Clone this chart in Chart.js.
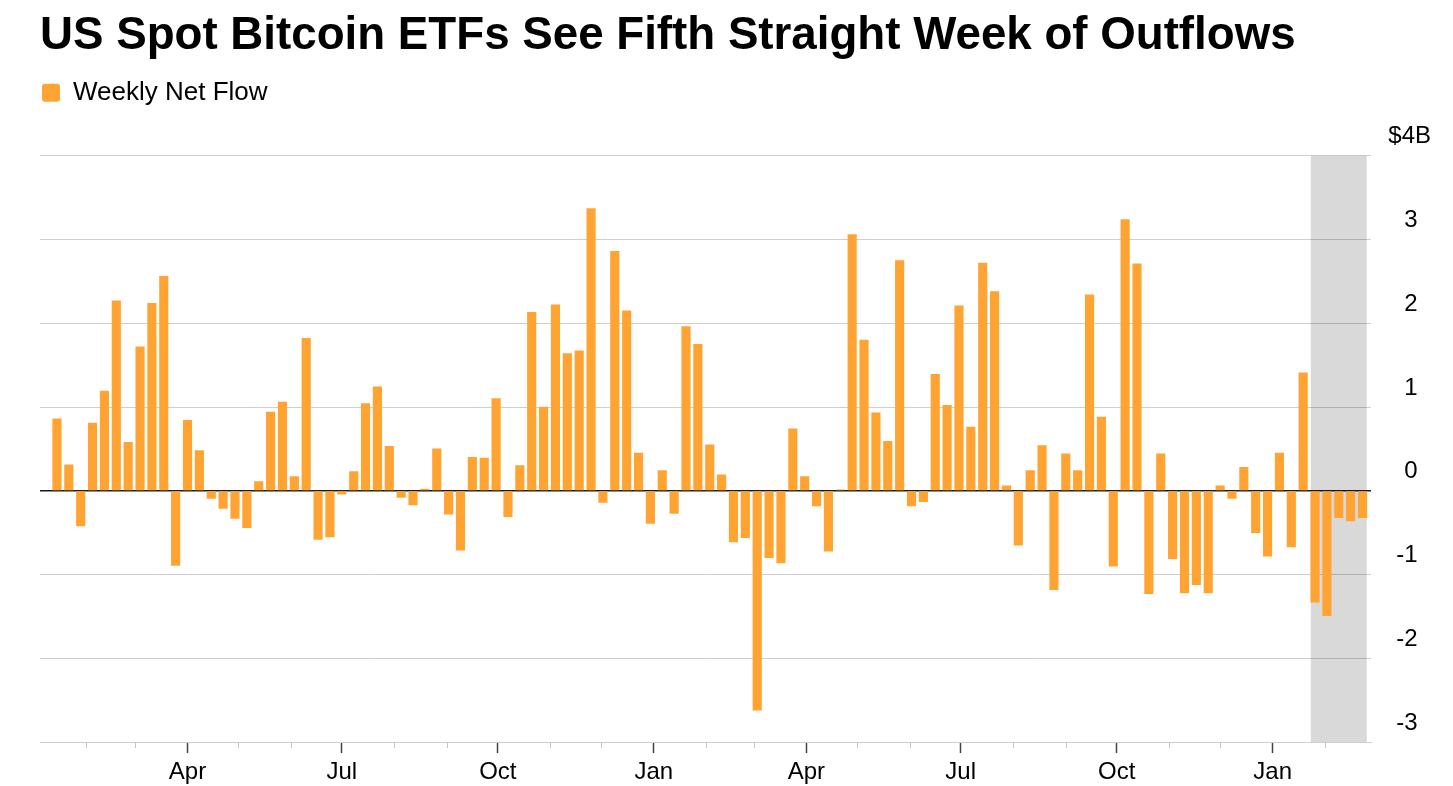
<!DOCTYPE html>
<html>
<head>
<meta charset="utf-8">
<title>US Spot Bitcoin ETFs See Fifth Straight Week of Outflows</title>
<script src="https://cdn.jsdelivr.net/npm/chart.js@4.4.1/dist/chart.umd.min.js"></script>
<style>
    html, body { margin: 0; padding: 0; background: #fff; }
    #wrap { position: relative; width: 1453px; height: 786px; }
</style>
</head>
<body>
<div id="wrap"><canvas id="flowChart"></canvas></div>
<script>
// weeks (Monday of each week), Jan 2024 - Feb 2026
const weeks = [
    "2024-01-15", "2024-01-22", "2024-01-29",
    "2024-02-05", "2024-02-12", "2024-02-19", "2024-02-26",
    "2024-03-04", "2024-03-11", "2024-03-18", "2024-03-25",
    "2024-04-01", "2024-04-08", "2024-04-15", "2024-04-22", "2024-04-29",
    "2024-05-06", "2024-05-13", "2024-05-20", "2024-05-27",
    "2024-06-03", "2024-06-10", "2024-06-17", "2024-06-24",
    "2024-07-01", "2024-07-08", "2024-07-15", "2024-07-22", "2024-07-29",
    "2024-08-05", "2024-08-12", "2024-08-19", "2024-08-26",
    "2024-09-02", "2024-09-09", "2024-09-16", "2024-09-23", "2024-09-30",
    "2024-10-07", "2024-10-14", "2024-10-21", "2024-10-28",
    "2024-11-04", "2024-11-11", "2024-11-18", "2024-11-25",
    "2024-12-02", "2024-12-09", "2024-12-16", "2024-12-23", "2024-12-30",
    "2025-01-06", "2025-01-13", "2025-01-20", "2025-01-27",
    "2025-02-03", "2025-02-10", "2025-02-17", "2025-02-24",
    "2025-03-03", "2025-03-10", "2025-03-17", "2025-03-24", "2025-03-31",
    "2025-04-07", "2025-04-14", "2025-04-21", "2025-04-28",
    "2025-05-05", "2025-05-12", "2025-05-19", "2025-05-26",
    "2025-06-02", "2025-06-09", "2025-06-16", "2025-06-23", "2025-06-30",
    "2025-07-07", "2025-07-14", "2025-07-21", "2025-07-28",
    "2025-08-04", "2025-08-11", "2025-08-18", "2025-08-25",
    "2025-09-01", "2025-09-08", "2025-09-15", "2025-09-22", "2025-09-29",
    "2025-10-06", "2025-10-13", "2025-10-20", "2025-10-27",
    "2025-11-03", "2025-11-10", "2025-11-17", "2025-11-24",
    "2025-12-01", "2025-12-08", "2025-12-15", "2025-12-22", "2025-12-29",
    "2026-01-05", "2026-01-12", "2026-01-19", "2026-01-26",
    "2026-02-02", "2026-02-09", "2026-02-16", "2026-02-23",
];

// weekly net flow, $ billions
const netFlow = [
    0.86, 0.31, -0.42,
    0.81, 1.19, 2.27, 0.58,
    1.72, 2.24, 2.56, -0.89,
    0.84, 0.48, -0.09, -0.21, -0.33,
    -0.44, 0.11, 0.94, 1.06,
    0.17, 1.82, -0.58, -0.55,
    -0.04, 0.23, 1.04, 1.24, 0.53,
    -0.08, -0.17, 0.02, 0.50,
    -0.28, -0.71, 0.40, 0.39, 1.10,
    -0.31, 0.30, 2.13, 1.00,
    2.22, 1.64, 1.67, 3.37,
    -0.14, 2.86, 2.15, 0.45, -0.39,
    0.24, -0.27, 1.96, 1.75,
    0.55, 0.19, -0.61, -0.56,
    -2.62, -0.80, -0.86, 0.74, 0.17,
    -0.18, -0.72, 0.01, 3.06,
    1.80, 0.93, 0.59, 2.75,
    -0.18, -0.13, 1.39, 1.02, 2.21,
    0.76, 2.72, 2.38, 0.06,
    -0.65, 0.24, 0.54, -1.18,
    0.44, 0.24, 2.34, 0.88, -0.90,
    3.24, 2.71, -1.23, 0.44,
    -0.81, -1.22, -1.12, -1.22,
    0.06, -0.09, 0.28, -0.50, -0.78,
    0.45, -0.67, 1.41, -1.33,
    -1.49, -0.32, -0.36, -0.32,
];

// axis labels
const quarterMonths = [0, 3, 6, 9];
const quarterLabels = ["Jan", "Apr", "Jul", "Oct"];
const yTicks = [-3, -2, -1, 0, 1, 2, 3, 4];
const outflowStreak = 5; // shaded weeks at the end

const DAY = 86400000;
const EPOCH = Date.UTC(2024, 0, 1);
const toDay = (s) => (Date.parse(s + "T00:00:00Z") - EPOCH) / DAY;
const monthOf = (day) => new Date(EPOCH + day * DAY).getUTCMonth();
const isQuarter = (day) => quarterMonths.includes(monthOf(day));

// month start ticks, Feb 2024 - Feb 2026
const monthTicks = [];
for (let y = 2024; y <= 2026; y++) {
    for (let m = 0; m < 12; m++) {
        const d = (Date.UTC(y, m, 1) - EPOCH) / DAY;
        if (d > 20 && d < 785) monthTicks.push(d);
    }
}

const ORANGE = "#ffa433";
const GRID = "#cfcfcf";

Chart.defaults.font.family = "'Liberation Sans', Arial, Helvetica, sans-serif";
Chart.defaults.color = "#000";

// extra space between legend and plot
const legendGap = {
    id: "legendGap",
    beforeInit(chart) {
        const fit = chart.legend.fit;
        chart.legend.fit = function () {
            fit.call(this);
            this.height += 40;
        };
    },
};

// grey band behind the latest outflow weeks
const streakBand = {
    id: "streakBand",
    beforeDatasetsDraw(chart) {
        const bars = chart.getDatasetMeta(0).data;
        const first = bars[bars.length - outflowStreak];
        const last = bars[bars.length - 1];
        const { ctx, chartArea } = chart;
        const x0 = first.x - first.width / 2;
        const x1 = last.x + last.width / 2;
        ctx.save();
        ctx.fillStyle = "rgba(0, 0, 0, 0.15)";
        ctx.fillRect(x0, chartArea.top, x1 - x0, chartArea.bottom - chartArea.top);
        ctx.restore();
    },
};

// short light ticks for the unlabelled months
const minorTicks = {
    id: "minorTicks",
    afterDraw(chart) {
        const x = chart.scales.x;
        const ctx = chart.ctx;
        ctx.save();
        ctx.strokeStyle = "#c4c4c4";
        ctx.lineWidth = 1;
        x.ticks.forEach((t) => {
            if (isQuarter(t.value)) return;
            const px = Math.round(x.getPixelForValue(t.value)) + 0.5;
            ctx.beginPath();
            ctx.moveTo(px, x.top);
            ctx.lineTo(px, x.top + 6);
            ctx.stroke();
        });
        ctx.restore();
    },
};

const ctx = document.getElementById("flowChart").getContext("2d");
new Chart(ctx, {
    type: "bar",
    data: {
        datasets: [
            {
                label: "Weekly Net Flow",
                data: weeks.map((w, i) => ({ x: toDay(w), y: netFlow[i] })),
                backgroundColor: ORANGE,
                borderWidth: 0,
                barThickness: 8.5,
            },
        ],
    },
    options: {
        responsive: true,
        maintainAspectRatio: false,
        animation: false,
        layout: { padding: { left: 40, right: 22, top: 0, bottom: 0 } },
        plugins: {
            title: {
                display: true,
                text: "US Spot Bitcoin ETFs See Fifth Straight Week of Outflows",
                align: "start",
                color: "#000",
                font: { size: 45.7, weight: "bold" },
                padding: { top: 9, bottom: 14 },
            },
            legend: {
                display: true,
                align: "start",
                labels: {
                    boxWidth: 18,
                    boxHeight: 18,
                    padding: 2,
                    useBorderRadius: true,
                    borderRadius: 3,
                    color: "#000",
                    font: { size: 26 },
                },
            },
            tooltip: {
                callbacks: {
                    title: (items) => weeks[items[0].dataIndex],
                    label: (item) => " $" + item.parsed.y.toFixed(2) + "B",
                },
            },
        },
        scales: {
            x: {
                type: "linear",
                offset: false,
                min: 4,
                max: 789,
                afterBuildTicks(scale) {
                    scale.ticks = monthTicks.map((v) => ({ value: v }));
                },
                afterFit(scale) {
                    scale.height = 44;
                },
                ticks: {
                    autoSkip: false,
                    maxRotation: 0,
                    padding: 5,
                    font: { size: 24 },
                    color: "#000",
                    callback: (v) => {
                        const k = quarterMonths.indexOf(monthOf(v));
                        return k >= 0 ? quarterLabels[k] : "";
                    },
                },
                grid: {
                    offset: false,
                    drawOnChartArea: false,
                    tickLength: 11,
                    tickWidth: 1.5,
                    tickColor: (c) => (c.tick && isQuarter(c.tick.value) ? "#444" : "rgba(0,0,0,0)"),
                },
                border: { color: GRID },
            },
            y: {
                position: "right",
                min: -3,
                max: 4,
                afterBuildTicks(scale) {
                    scale.ticks = yTicks.map((v) => ({ value: v }));
                },
                afterFit(scale) {
                    scale.width = 60;
                },
                ticks: {
                    crossAlign: "far",
                    padding: 16,
                    labelOffset: -19,
                    font: { size: 24 },
                    color: "#000",
                    callback: (v) => (v === 4 ? "$4B" : v + "\u00a0\u00a0"),
                },
                grid: {
                    drawTicks: false,
                    color: (c) => (c.tick && c.tick.value === 0 ? "#1a1a1a" : GRID),
                    lineWidth: (c) => (c.tick && c.tick.value === 0 ? 1.5 : 1),
                },
                border: { display: false },
            },
        },
    },
    plugins: [legendGap, streakBand, minorTicks],
});
</script>
</body>
</html>
